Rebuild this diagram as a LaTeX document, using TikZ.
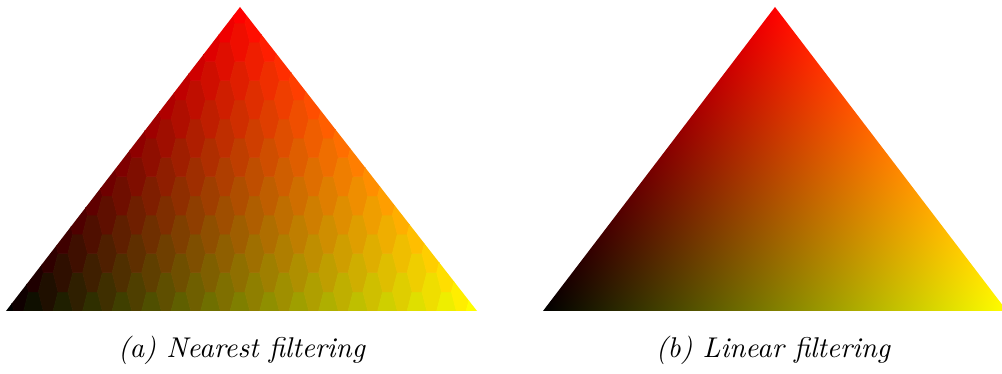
\documentclass[tikz,border=0pt]{standalone}
\usepackage{tikz}

\pgfdeclarefunctionalshading{baryshade}{\pgfpoint{0bp}{0bp}}{\pgfpoint{100bp}{100bp}}{}{%
  25 sub 50 div exch 25 sub 50 div exch
  2 div 2 copy add 3 1 roll sub 0
}

\begin{document}
\begin{tikzpicture}[
  x=0.35pt, y=0.35pt,
  hexcell/.style={fill=hexcol, draw=hexcol, line width=0.2pt},
  caption/.style={anchor=base, font=\itshape}]
\useasboundingbox (0,0) rectangle (1002,374);
\coordinate (aL) at (6,63);
\coordinate (aR) at (477,63);
\coordinate (aT) at (240,367);
\begin{scope}
  \clip (aL) -- (aR) -- (aT) -- cycle;
  \foreach \i in {-17,...,17} {
    \foreach \j in {-1,...,8} {
      \pgfmathsetmacro{\cx}{240+14.75*\i}
      \pgfmathsetmacro{\cy}{63+38.4*\j+19.2*mod(abs(\i),2)}
      \pgfmathsetmacro{\hu}{(\cx-6)/471}
      \pgfmathsetmacro{\hv}{(\cy-63)/304}
      \pgfmathsetmacro{\hexr}{min(1,max(0,\hu+\hv/2))}
      \pgfmathsetmacro{\hexg}{min(1,max(0,\hu-\hv/2))}
      \definecolor{hexcol}{rgb}{\hexr,\hexg,0}
      \fill[hexcell] (\cx-9.85,\cy) -- ++(4.925,19.2) -- ++(9.85,0)
        -- ++(4.925,-19.2) -- ++(-4.925,-19.2) -- ++(-9.85,0) -- cycle;
    }
  }
\end{scope}
\coordinate (bL) at (543,63);
\coordinate (bR) at (1007,63);
\coordinate (bT) at (775,367);
\shade[shading=baryshade] (bL) -- (bR) -- (bT) -- cycle;
\node[caption] (capA) at (241.5,16) {(a) Nearest filtering};
\node[caption] (capB) at (773,16) {(b) Linear filtering};
\end{tikzpicture}
\end{document}
